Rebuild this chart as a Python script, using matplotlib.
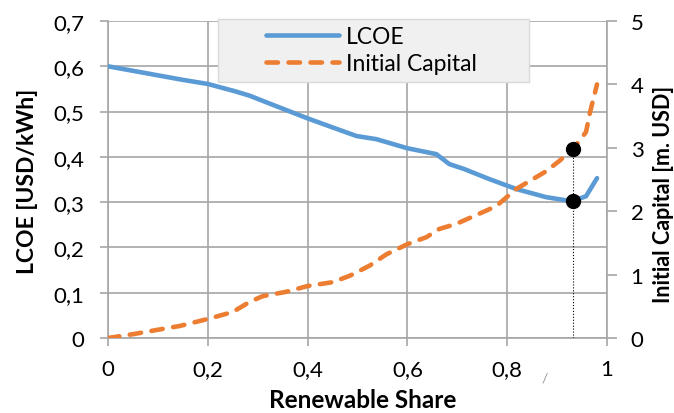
import numpy as np
import matplotlib
matplotlib.use('Agg')
import matplotlib.pyplot as plt
from matplotlib.patches import Rectangle

## DATA

# LCOE vs renewable share
share_lcoe = [0, 0.05, 0.1, 0.15, 0.2, 0.254, 0.284, 0.33, 0.4, 0.45, 0.498,
              0.538, 0.6, 0.658, 0.684, 0.714, 0.764, 0.818, 0.878, 0.93, 0.958, 0.98]
lcoe = [0.6, 0.59, 0.58, 0.57, 0.561, 0.545, 0.535, 0.515, 0.485, 0.465, 0.446,
        0.439, 0.419, 0.406, 0.384, 0.373, 0.351, 0.329, 0.311, 0.302, 0.313, 0.353]

# initial capital vs renewable share
share_cap = [0, 0.05, 0.1, 0.144, 0.2, 0.25, 0.284, 0.31, 0.358, 0.4, 0.45, 0.484,
             0.524, 0.558, 0.6, 0.638, 0.664, 0.698, 0.744, 0.778, 0.818, 0.878,
             0.904, 0.932, 0.958, 0.966, 0.98]
capital = [0, 0.06, 0.13, 0.19, 0.30, 0.41, 0.57, 0.66, 0.73, 0.82, 0.88, 0.98,
           1.14, 1.32, 1.48, 1.59, 1.72, 1.80, 1.96, 2.08, 2.35, 2.63,
           2.79, 2.98, 3.25, 3.56, 4.0]

# highlighted point
opt_share = 0.932
opt_lcoe = 0.302
opt_cap = 2.98

x_ticks = [0, 0.2, 0.4, 0.6, 0.8, 1]
x_labels = ['0', '0,2', '0,4', '0,6', '0,8', '1']
y_ticks = [0, 0.1, 0.2, 0.3, 0.4, 0.5, 0.6, 0.7]
y_labels = ['0', '0,1', '0,2', '0,3', '0,4', '0,5', '0,6', '0,7']
y2_ticks = [0, 1, 2, 3, 4, 5]
y2_labels = ['0', '1', '2', '3', '4', '5']

## PLOT

plt.rcParams['font.family'] = ['Lato', 'DejaVu Sans']
blue = '#5B9BD5'
orange = '#ED7D31'
grid = '#a6a6a6'

W, H = 674, 414
fig = plt.figure(figsize=(W / 100, H / 100), dpi=100)
ax = fig.add_axes([108 / W, 1 - 339 / H, 499 / W, 317 / H])
ax2 = ax.twinx()

l1, = ax.plot(share_lcoe, lcoe, c=blue, lw=3.3, solid_capstyle='round',
              solid_joinstyle='round', label='LCOE', zorder=3)
l2, = ax2.plot(share_cap, capital, c=orange, lw=3.3, dashes=(2.5, 2.3),
               dash_capstyle='round', label='Initial Capital', zorder=3)

# dotted drop line and markers
ax2.plot([opt_share, opt_share], [0, opt_cap], c='k', lw=0.8, ls=':', zorder=4)
ax.plot(opt_share, opt_lcoe, 'o', c='k', ms=10, zorder=5)
ax2.plot(opt_share, opt_cap, 'o', c='k', ms=10, zorder=5)

ax.set_xlim(0, 1)
ax.set_ylim(0, 0.7)
ax2.set_ylim(0, 5)
ax.set_xticks(x_ticks, x_labels)
ax.set_yticks(y_ticks, y_labels)
ax2.set_yticks(y2_ticks, y2_labels)

ax.grid(True, color=grid, lw=1.2)
ax.set_axisbelow(True)
for a in (ax, ax2):
    for s in a.spines.values():
        s.set_visible(False)
ax.spines['left'].set_visible(True)
ax.spines['bottom'].set_visible(True)
ax2.spines['right'].set_visible(True)
for s in (ax.spines['left'], ax.spines['bottom'], ax2.spines['right']):
    s.set_color(grid)
    s.set_linewidth(1.2)

ax.tick_params(axis='both', colors=grid, labelcolor='k', labelsize=16,
               length=6, width=1.2)
ax.tick_params(axis='y', pad=11)
ax.tick_params(axis='x', pad=9)
ax2.tick_params(axis='y', colors=grid, labelcolor='k', labelsize=16,
                length=7, width=1.2, pad=10)

# axis labels
fig.text(28 / W, 1 - 181 / H, 'LCOE [USD/kWh]', rotation=90, ha='center',
         va='center', fontsize=16.5, fontweight='bold')
fig.text(663 / W, 1 - 194 / H, 'Initial Capital [m. USD]', rotation=90,
         ha='center', va='center', fontsize=15.5, fontweight='bold')
fig.text(363 / W, 1 - 401 / H, 'Renewable Share', ha='center', va='center',
         fontsize=17.5, fontweight='bold')

# legend box
fig.patches.append(Rectangle((218 / W, 1 - 83 / H), 311 / W, 63 / H,
                             transform=fig.transFigure, facecolor='#f0f0f0',
                             edgecolor='#d9d9d9', lw=1, zorder=6))
leg = fig.legend(handles=[l1, l2], loc='center left',
                 bbox_to_anchor=(245 / W, 1 - 51 / H), frameon=False,
                 fontsize=16.5, handlelength=3.2, handletextpad=0.3,
                 labelspacing=0.25)
leg.set_zorder(7)

# stray mark below the axis
fig.text(545 / W, 1 - 379 / H, '/', color='#999999', fontsize=10,
         ha='center', va='center')

plt.savefig('out.png', dpi=100)
